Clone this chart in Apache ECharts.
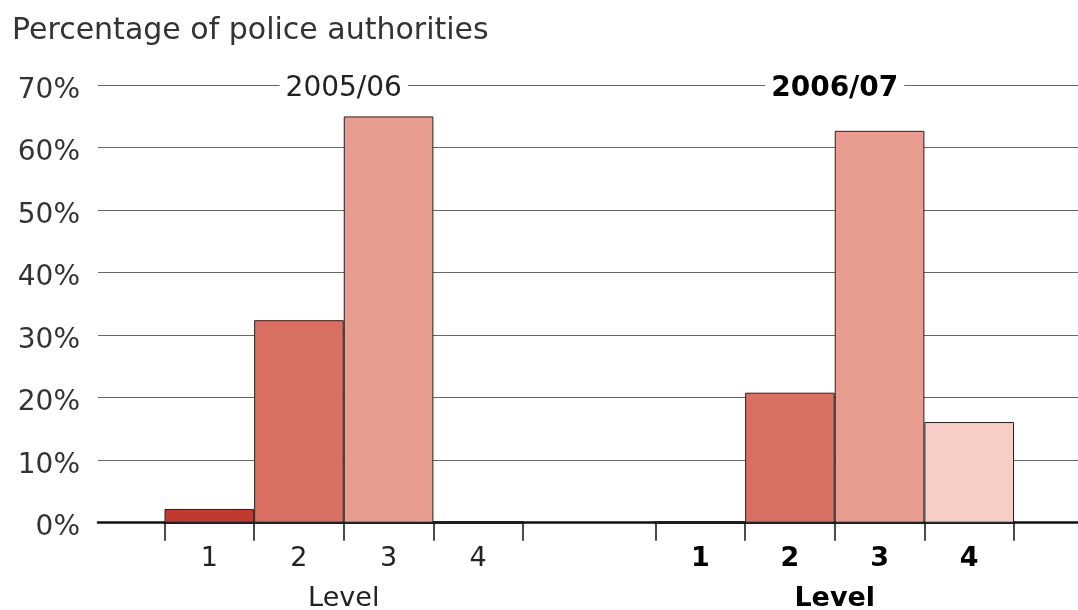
<!DOCTYPE html>
<html>
<head>
<meta charset="utf-8">
<style>html,body{margin:0;padding:0;background:#fff;}#c{width:1078px;height:610px;}</style>
<script src="https://cdn.jsdelivr.net/npm/echarts@6/dist/echarts.min.js"></script>
</head>
<body>
<div id="c"></div>
<script>
const chartTitle = 'Percentage of police authorities';
const levels = ['1', '2', '3', '4'];
const years = ['2005/06', '2006/07'];
const values0506 = [2.2, 32.4, 65.0, 0];
const values0607 = [0, 20.8, 62.7, 16.1];
const levelColors = ['#c13a31', '#d97062', '#e99d90', '#f6cdc7'];
const yMin = 0, yMax = 70, yStep = 10;
const axisName = 'Level';

const FONT = 'DejaVu Sans';
const TOP = 85.2, BOTTOM = 87.3;

const chart = echarts.init(document.getElementById('c'), null, {renderer: 'canvas'});

function barGridAxes(i, bold) {
  const w = bold ? 'bold' : 'normal';
  const col = bold ? '#000' : '#222';
  return [
    {
      type: 'category', gridIndex: i, data: levels, position: 'bottom',
      axisLine: {show: true, lineStyle: {color: '#111', width: 2.5}},
      axisTick: {show: true, length: 18, lineStyle: {color: '#111', width: 1.5}},
      axisLabel: {margin: 23, fontFamily: FONT, fontSize: 27, color: col, fontWeight: w},
      name: axisName, nameLocation: 'middle', nameGap: 63,
      nameTextStyle: {fontFamily: FONT, fontSize: 27, color: col, fontWeight: w, verticalAlign: 'top'},
      splitLine: {show: false}
    },
    {
      type: 'category', gridIndex: i, data: levels, position: 'top', z: 5,
      axisLine: {show: false}, axisTick: {show: false}, axisLabel: {show: false},
      name: years[i - 1], nameLocation: 'middle', nameGap: -4,
      nameTextStyle: {fontFamily: FONT, fontSize: 28, color: col, fontWeight: w,
        verticalAlign: 'middle', backgroundColor: '#fff', padding: [4, 6, 4, 6]}
    }
  ];
}

const option = {
  animation: false,
  backgroundColor: '#fff',
  title: {
    text: chartTitle, left: 12, top: 16, padding: 0,
    textStyle: {fontFamily: FONT, fontSize: 30, fontWeight: 'normal', color: '#333'}
  },
  grid: [
    {left: 98, right: 0, top: TOP, bottom: BOTTOM, outerBoundsMode: 'none', containLabel: false},
    {left: 164.5, width: 358.5, top: TOP, bottom: BOTTOM, outerBoundsMode: 'none', containLabel: false},
    {left: 655.5, width: 358.5, top: TOP, bottom: BOTTOM, outerBoundsMode: 'none', containLabel: false}
  ],
  xAxis: [
    {type: 'value', gridIndex: 0, min: 0, max: 1,
      axisLine: {show: true, onZero: false, lineStyle: {color: '#111', width: 2.5}},
      axisTick: {show: false}, axisLabel: {show: false}, splitLine: {show: false}},
    ...barGridAxes(1, false),
    ...barGridAxes(2, true)
  ],
  yAxis: [
    {type: 'value', gridIndex: 0, min: yMin, max: yMax, interval: yStep,
      axisLine: {show: false}, axisTick: {show: false},
      axisLabel: {formatter: '{value}%', margin: 18, fontFamily: FONT, fontSize: 28, color: '#333',
        verticalAlign: 'top', lineHeight: 11},
      splitLine: {show: true, lineStyle: {color: '#666', width: 1}}},
    {type: 'value', gridIndex: 1, min: yMin, max: yMax, interval: yStep, show: false, splitLine: {show: false}},
    {type: 'value', gridIndex: 2, min: yMin, max: yMax, interval: yStep, show: false, splitLine: {show: false}}
  ],
  series: [
    {type: 'bar', xAxisIndex: 1, yAxisIndex: 1, data: values0506, barCategoryGap: '0%', z: 3,
      itemStyle: {color: p => levelColors[p.dataIndex], borderColor: '#222', borderWidth: 1}},
    {type: 'bar', xAxisIndex: 3, yAxisIndex: 2, data: values0607, barCategoryGap: '0%', z: 3,
      itemStyle: {color: p => levelColors[p.dataIndex], borderColor: '#222', borderWidth: 1}}
  ]
};
chart.setOption(option);
</script>
</body>
</html>
